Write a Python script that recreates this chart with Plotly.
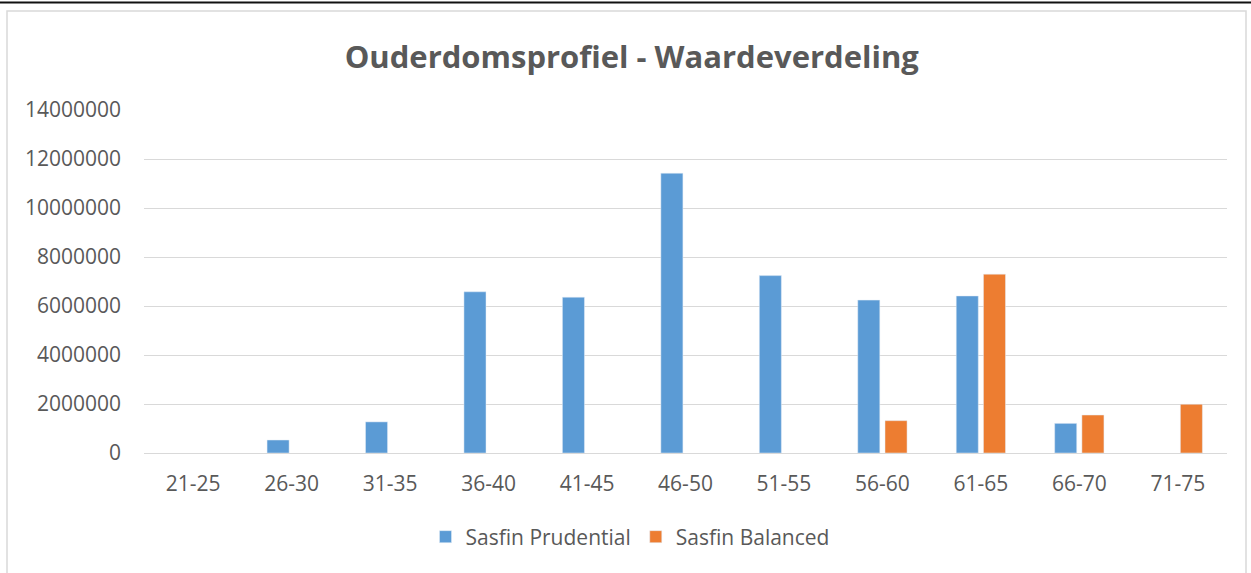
import plotly.graph_objects as go

categories = ["21-25", "26-30", "31-35", "36-40", "41-45", "46-50", "51-55",
              "56-60", "61-65", "66-70", "71-75"]
prudential = [None, 530000, 1270000, 6580000, 6360000, 11420000, 7240000,
              6240000, 6410000, 1210000, None]
balanced = [None, None, None, None, None, None, None,
            1320000, 7300000, 1550000, 1990000]
y_ticks = [0, 2000000, 4000000, 6000000, 8000000, 10000000, 12000000, 14000000]

W, H = 1251, 573
L, R, T, B = 144, 24, 110, 120
pw, ph = W - L - R, H - T - B


def px_x(x):
    return (x - L) / pw


def px_y(y):
    return (H - B - y) / ph


fig = go.Figure()
fig.add_trace(go.Bar(x=categories, y=prudential, name="Sasfin Prudential",
                     marker_color="#5b9bd5"))
fig.add_trace(go.Bar(x=categories, y=balanced, name="Sasfin Balanced",
                     marker_color="#ed7d31"))

fig.update_layout(
    width=W, height=H,
    margin=dict(l=L, r=R, t=T, b=B),
    paper_bgcolor="white", plot_bgcolor="white",
    font=dict(family="Open Sans", color="#595959", size=21),
    title=dict(text="Ouderdomsprofiel - Waardeverdeling",
               font=dict(family="Open Sans", size=31, color="#595959", weight="bold"),
               x=0.505, xanchor="center", y=1 - 57 / H, yanchor="middle"),
    barmode="group", bargap=0.447, bargroupgap=0.19,
    showlegend=True,
    legend=dict(orientation="h", x=px_x(630), xanchor="center",
                y=px_y(537), yanchor="middle",
                font=dict(size=21, color="#595959"),
                itemwidth=30, traceorder="normal"),
    xaxis=dict(showgrid=False, showline=True, linecolor="#d9d9d9",
               ticks="", ticklabelstandoff=12,
               tickfont=dict(size=21, color="#595959")),
    yaxis=dict(range=[0, 14000000], tickvals=y_ticks,
               ticktext=[str(v) for v in y_ticks],
               showgrid=True, gridcolor="#d9d9d9", gridwidth=1,
               zeroline=False, showline=False, ticks="",
               ticklabelstandoff=22,
               tickfont=dict(size=21, color="#595959")),
)

fig.add_shape(type="rect", xref="paper", yref="paper",
              x0=px_x(7), x1=px_x(1246), y0=px_y(600), y1=px_y(11),
              line=dict(color="#d9d9d9", width=1.5), layer="below")
fig.add_shape(type="line", xref="paper", yref="paper",
              x0=px_x(0), x1=px_x(W), y0=px_y(2.5), y1=px_y(2.5),
              line=dict(color="#111111", width=2))

fig.write_html("out.html",
               config={"displayModeBar": False},
               post_script="document.body.style.margin='0';document.body.style.padding='0';")
